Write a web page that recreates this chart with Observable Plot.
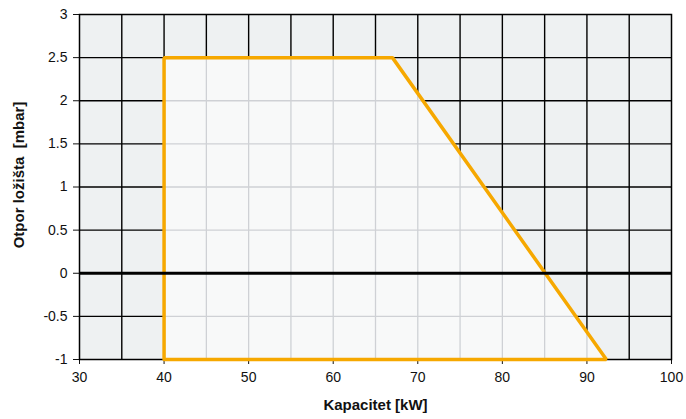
<!DOCTYPE html>
<html><head><meta charset="utf-8">
<script src="https://cdn.jsdelivr.net/npm/d3@7"></script>
<script src="https://cdn.jsdelivr.net/npm/@observablehq/plot@0.6"></script>
<style>html,body{margin:0;padding:0;background:#fff} svg{display:block}</style>
</head><body><div id="chart"></div>
<script>
// Working envelope (closed polygon): capacity [kW] vs. furnace resistance [mbar]
const capacity   = [40, 40, 67, 92.3, 40];
const resistance = [-1, 2.5, 2.5, -1, -1];

const xTicks = [30, 40, 50, 60, 70, 80, 90, 100];
const yTicks = [-1, -0.5, 0, 0.5, 1, 1.5, 2, 2.5, 3];
const xGrid  = [35, 40, 45, 50, 55, 60, 65, 70, 75, 80, 85, 90, 95];
const yGrid  = [-0.5, 0.5, 1, 1.5, 2, 2.5];
const zeroLine = [0];

const xTitle = "Kapacitet [kW]";
const yTitle = "Otpor ložišta\u00a0 [mbar]";

const envelope = capacity.map((x, i) => ({x, y: resistance[i]}));

const ORANGE = "#f6a800";
const FONT = "'Helvetica Neue', Helvetica, Arial, 'Liberation Sans', sans-serif";
const NS = "http://www.w3.org/2000/svg";

// the envelope fill mark also publishes its outline as a clipPath
function withClipDef(index, scales, values, dimensions, context, next) {
  const g = next(index, scales, values, dimensions, context);
  const src = g.querySelector("path");
  if (src) {
    const cp = document.createElementNS(NS, "clipPath");
    cp.setAttribute("id", "env-clip");
    const p = document.createElementNS(NS, "path");
    p.setAttribute("d", src.getAttribute("d"));
    cp.appendChild(p);
    g.appendChild(cp);
  }
  return g;
}
// the light inner grid is clipped to the envelope
function clipped(index, scales, values, dimensions, context, next) {
  const g = next(index, scales, values, dimensions, context);
  g.setAttribute("clip-path", "url(#env-clip)");
  return g;
}

const svg = Plot.plot({
  width: 686,
  height: 419,
  marginLeft: 79,
  marginRight: 15,
  marginTop: 14,
  marginBottom: 60,
  style: {fontFamily: FONT, fontSize: "14px", color: "#111", background: "#fff"},
  x: {domain: [30, 100], ticks: xTicks, tickSize: 5, tickPadding: 8, tickFormat: d => String(d), label: null},
  y: {domain: [-1, 3], ticks: yTicks, tickSize: 6, tickPadding: 6, tickFormat: d => String(d), label: null},
  marks: [
    Plot.frame({fill: "#eef1f2"}),
    Plot.ruleX(xGrid, {stroke: "#000", strokeWidth: 1.4}),
    Plot.ruleY(yGrid, {stroke: "#000", strokeWidth: 1.4}),
    Plot.line(envelope, {x: "x", y: "y", fill: "#f8f9f9", stroke: "none", render: withClipDef}),
    Plot.ruleX(xGrid, {stroke: "#cfd1d5", strokeWidth: 1.3, render: clipped}),
    Plot.ruleY(yGrid, {stroke: "#cfd1d5", strokeWidth: 1.3, render: clipped}),
    Plot.frame({stroke: "#000", strokeWidth: 1.5}),
    Plot.line(envelope, {x: "x", y: "y", stroke: ORANGE, strokeWidth: 3.5, strokeLinejoin: "miter"}),
    Plot.ruleY(zeroLine, {stroke: "#000", strokeWidth: 3}),
    Plot.text([xTitle], {text: d => d, frameAnchor: "bottom", dy: 50, fontWeight: "bold", fontSize: 15, fill: "#111"}),
    Plot.text([yTitle], {text: d => d, frameAnchor: "left", dx: -60, dy: -12, rotate: -90, textAnchor: "middle", fontWeight: "bold", fontSize: 15, fill: "#111"})
  ]
});

document.getElementById("chart").appendChild(svg);
</script>
</body></html>
